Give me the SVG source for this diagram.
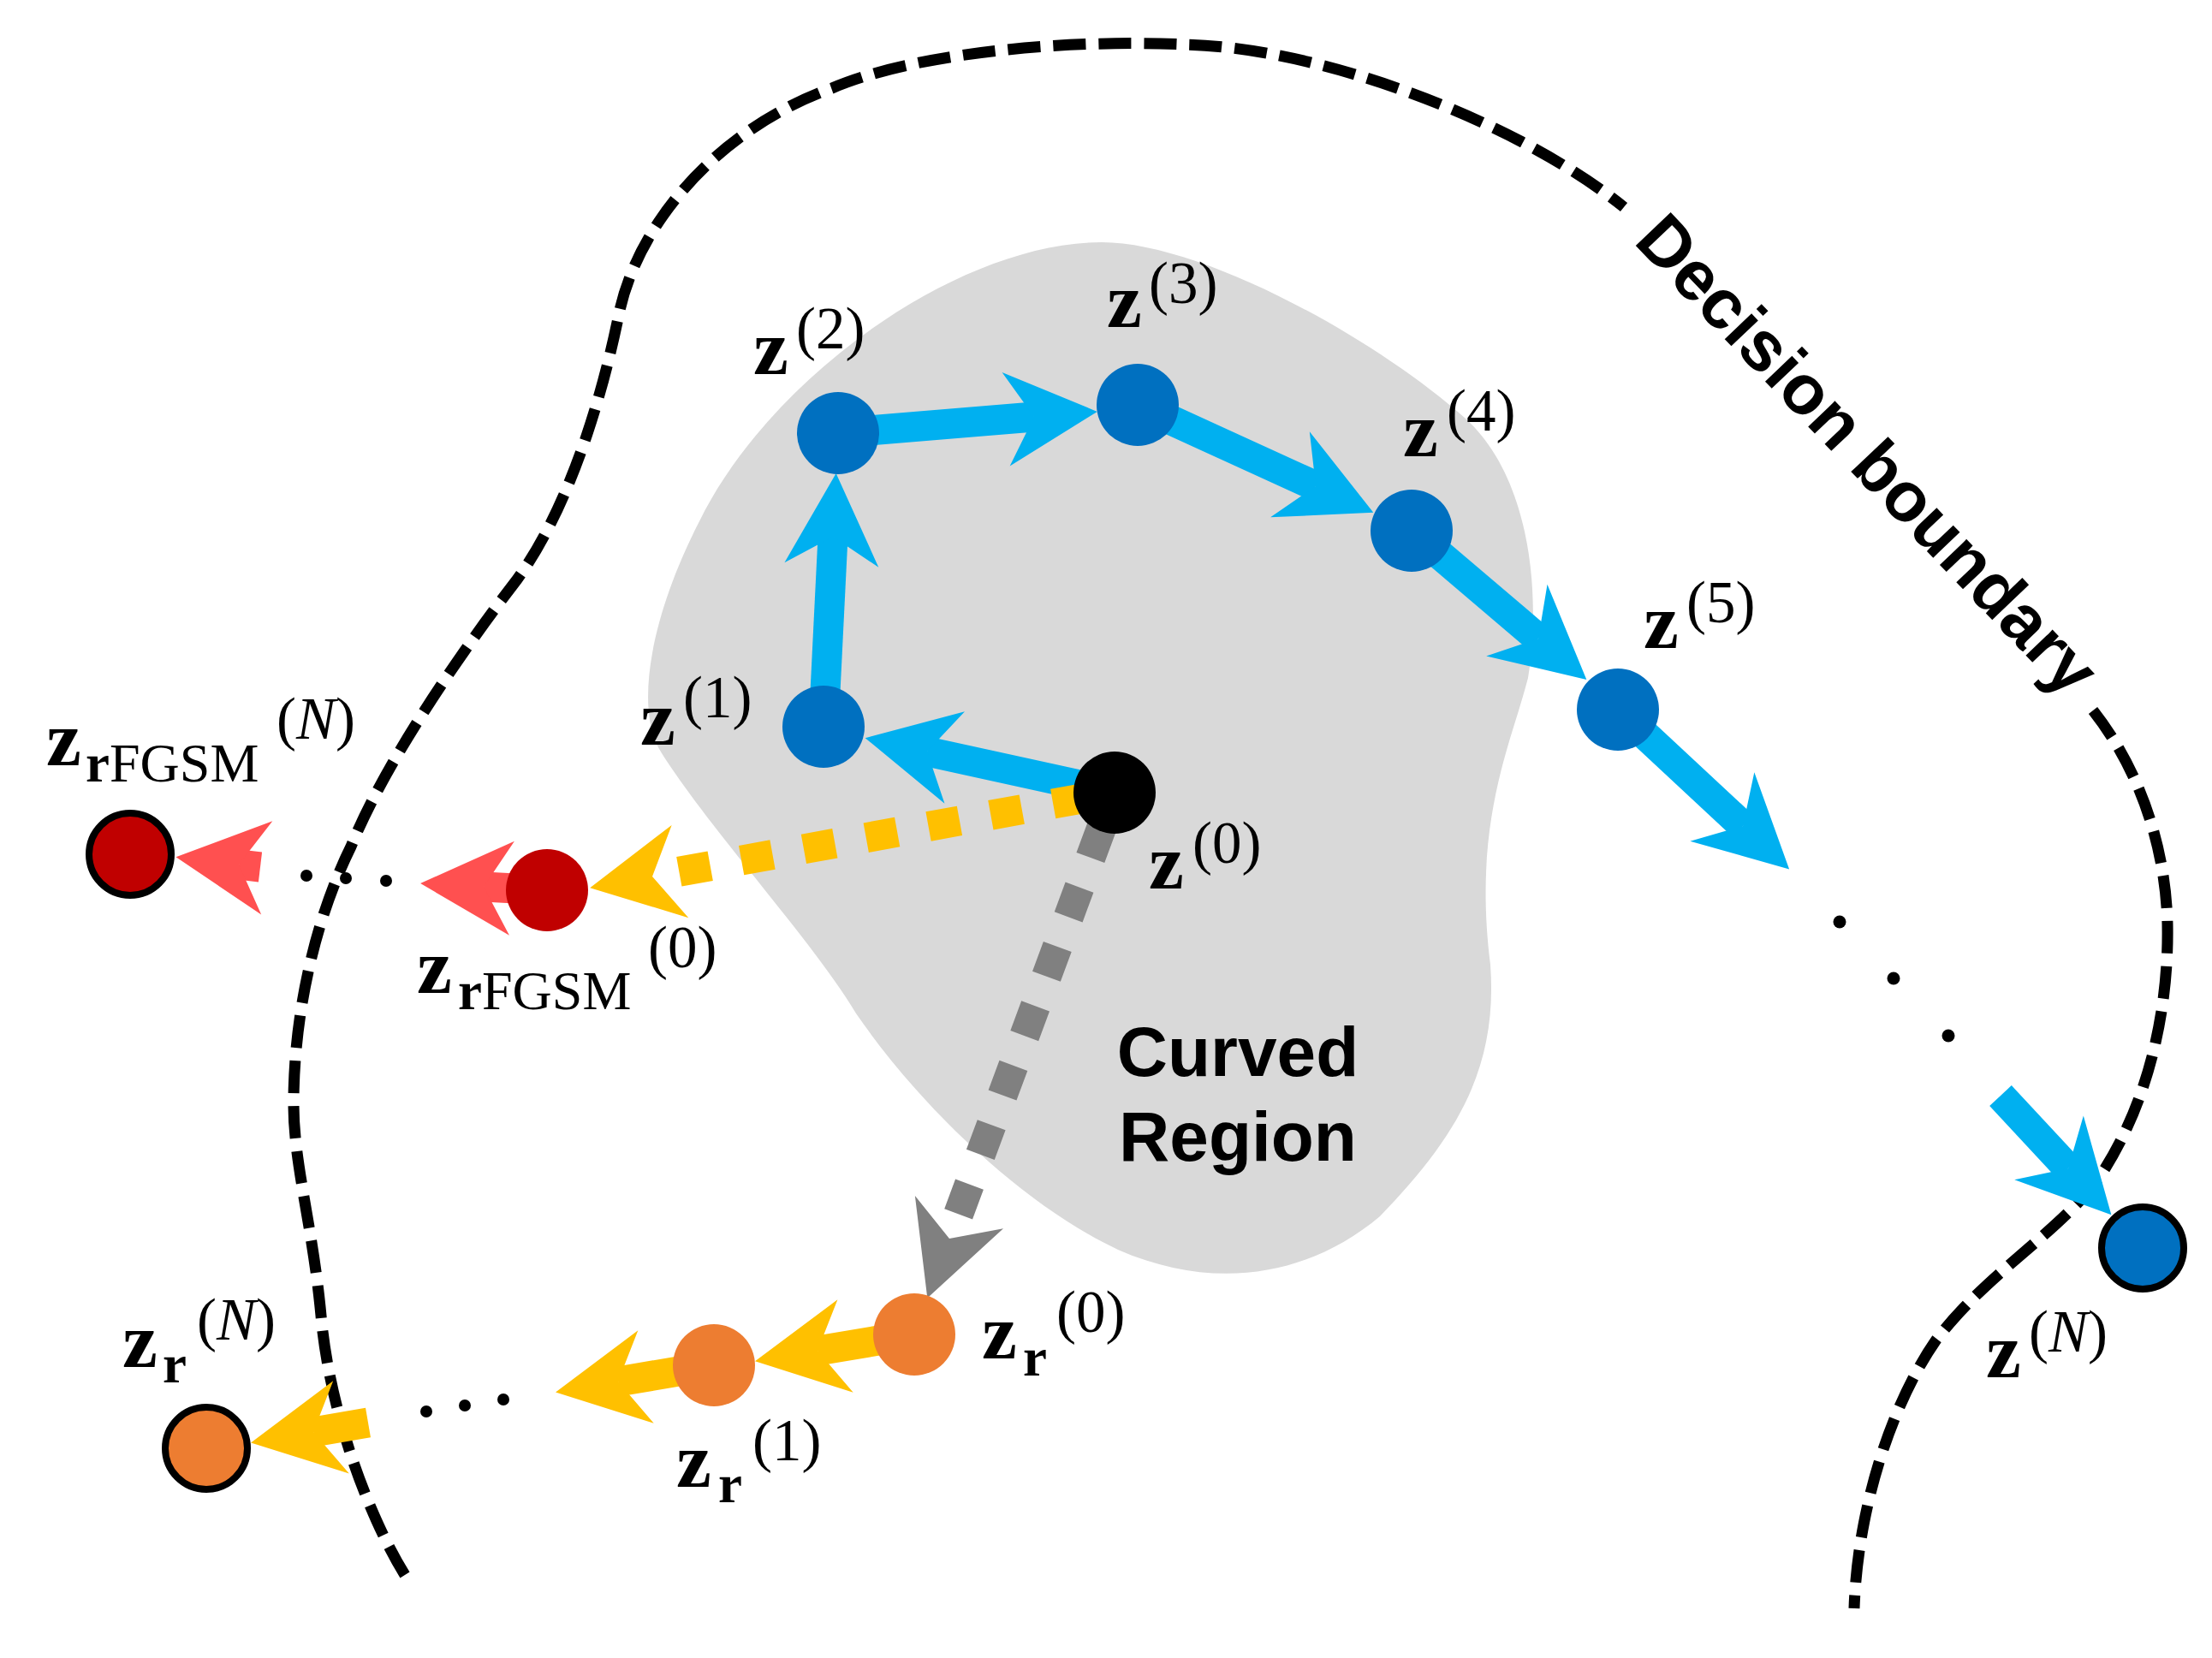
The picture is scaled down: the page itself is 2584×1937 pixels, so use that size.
<svg xmlns="http://www.w3.org/2000/svg" width="2584" height="1937" viewBox="0 0 2584 1937">
<defs>
<style>
.bd{fill:none;stroke:#000;stroke-width:13;stroke-dasharray:38 15}
.sh{fill:none;stroke-width:35;stroke-linecap:butt}
.blue{stroke:#00B0F0}
.yel{stroke:#FFC000}
.red{stroke:#FF5050}
.gray{stroke:#808080}
.dash{stroke-dasharray:37 37}
.mz{font-family:"Liberation Serif","DejaVu Serif",serif;font-weight:bold;font-size:92px;fill:#000}
.sub{font-family:"Liberation Serif","DejaVu Serif",serif;font-weight:bold;font-size:63px;fill:#000}
.rm{font-weight:normal;font-size:64px}
.sup{font-family:"Liberation Serif","DejaVu Serif",serif;font-weight:normal;font-size:69px;fill:#000}
.lbl{font-family:"Liberation Sans",Arial,sans-serif;font-weight:bold;font-size:82px;fill:#000}
.nb{fill:#0070C0}
.nr{fill:#C00000}
.no{fill:#ED7D31}
.ring{stroke:#000;stroke-width:8}
.dot{fill:#000}
</style>
<marker id="hBlue" viewBox="-40 -60 120 120" markerWidth="120" markerHeight="120" refX="0" refY="0" orient="auto" markerUnits="userSpaceOnUse"><path d="M-33,-55 L74,0 L-33,55 L0,0 Z" fill="#00B0F0"/></marker>
<marker id="hYel" viewBox="-40 -60 120 120" markerWidth="120" markerHeight="120" refX="0" refY="0" orient="auto" markerUnits="userSpaceOnUse"><path d="M-33,-55 L74,0 L-33,55 L0,0 Z" fill="#FFC000"/></marker>
<marker id="hRed" viewBox="-40 -60 120 120" markerWidth="120" markerHeight="120" refX="0" refY="0" orient="auto" markerUnits="userSpaceOnUse"><path d="M-33,-55 L74,0 L-33,55 L0,0 Z" fill="#FF5050"/></marker>
<marker id="hGray" viewBox="-40 -60 120 120" markerWidth="120" markerHeight="120" refX="0" refY="0" orient="auto" markerUnits="userSpaceOnUse"><path d="M-33,-55 L74,0 L-33,55 L0,0 Z" fill="#808080"/></marker>
</defs>
<rect width="2584" height="1937" fill="#fff"/>

<g id="curved-region">
<path d="M1287,283 C1400,283 1600,390 1712,489 C1790,560 1800,700 1785,792 C1765,870 1720,960 1741,1127 C1750,1250 1700,1330 1612,1421 C1530,1490 1420,1510 1306,1460 C1200,1410 1080,1300 1000,1184 C950,1100 830,970 773,880 C740,830 760,720 817,609 C900,440 1120,283 1287,283 Z" fill="#D9D9D9"/>
<text class="lbl" x="1446" y="1257" text-anchor="middle">Curved</text>
<text class="lbl" x="1446" y="1356" text-anchor="middle">Region</text>
</g>

<g id="decision-boundary">
<path class="bd" d="M473,1840 C430,1770 385,1650 375,1537 C365,1430 343,1360 343,1290 C343,1180 370,1070 410,989 C450,890 540,760 604,677 C660,600 700,480 723,367 C745,260 840,150 972,103 C1060,65 1230,45 1384,52 C1540,55 1770,140 1897,242"/>
<path class="bd" d="M2445,830 C2500,900 2530,990 2532,1080 C2534,1200 2500,1310 2445,1386 C2390,1450 2320,1490 2262,1565 C2210,1640 2170,1760 2166,1879"/>
<text class="lbl" transform="translate(1907,283) rotate(46.4)" x="0" y="0">Decision boundary</text>
</g>

<g id="connectors">
<line class="sh blue" x1="1302" y1="926" x2="1083" y2="878" marker-end="url(#hBlue)"/>
<line class="sh blue" x1="962" y1="849" x2="973" y2="627" marker-end="url(#hBlue)"/>
<line class="sh blue" x1="979" y1="506" x2="1208" y2="487" marker-end="url(#hBlue)"/>
<line class="sh blue" x1="1329" y1="473" x2="1537" y2="568" marker-end="url(#hBlue)"/>
<line class="sh blue" x1="1649" y1="620" x2="1797" y2="746" marker-end="url(#hBlue)"/>
<line class="sh blue" x1="1890" y1="829" x2="2036" y2="965" marker-end="url(#hBlue)"/>
<line class="sh blue" x1="2337" y1="1280" x2="2416" y2="1365" marker-end="url(#hBlue)"/>
<line class="sh yel dash" stroke-dashoffset="38" x1="1302" y1="926" x2="762" y2="1024" marker-end="url(#hYel)"/>
<line class="sh gray dash" stroke-dashoffset="30" x1="1302" y1="926" x2="1109" y2="1447" marker-end="url(#hGray)"/>
<line class="sh red" x1="639" y1="1040" x2="565" y2="1036" marker-end="url(#hRed)"/>
<line class="sh red" x1="304" y1="1013" x2="279" y2="1010" marker-end="url(#hRed)"/>
<line class="sh yel" x1="1068" y1="1559" x2="955" y2="1578" marker-end="url(#hYel)"/>
<line class="sh yel" x1="834" y1="1595" x2="722" y2="1614" marker-end="url(#hYel)"/>
<line class="sh yel" x1="430" y1="1662" x2="366" y2="1673" marker-end="url(#hYel)"/>
<circle class="dot" cx="358" cy="1023" r="7"/>
<circle class="dot" cx="404" cy="1026" r="7"/>
<circle class="dot" cx="451" cy="1029" r="7"/>
<circle class="dot" cx="498" cy="1649" r="7"/>
<circle class="dot" cx="543" cy="1642" r="7"/>
<circle class="dot" cx="588" cy="1635" r="7"/>
<circle class="dot" cx="2149" cy="1077" r="7.5"/>
<circle class="dot" cx="2212" cy="1143" r="7.5"/>
<circle class="dot" cx="2276" cy="1210" r="7.5"/>
</g>

<g id="node-z0">
<circle cx="1302" cy="926" r="48" fill="#000"/>
<text class="mz" x="1342" y="1038">z</text><text class="sup" x="1393" y="1008">(0)</text>
</g>
<g id="node-z1">
<circle class="nb" cx="962" cy="849" r="48"/>
<text class="mz" x="748" y="870">z</text><text class="sup" x="798" y="838">(1)</text>
</g>
<g id="node-z2">
<circle class="nb" cx="979" cy="506" r="48"/>
<text class="mz" x="880" y="437">z</text><text class="sup" x="930" y="407">(2)</text>
</g>
<g id="node-z3">
<circle class="nb" cx="1329" cy="473" r="48"/>
<text class="mz" x="1293" y="382">z</text><text class="sup" x="1342" y="354">(3)</text>
</g>
<g id="node-z4">
<circle class="nb" cx="1649" cy="620" r="48"/>
<text class="mz" x="1639" y="533">z</text><text class="sup" x="1690" y="503">(4)</text>
</g>
<g id="node-z5">
<circle class="nb" cx="1890" cy="829" r="48"/>
<text class="mz" x="1920" y="757">z</text><text class="sup" x="1970" y="727">(5)</text>
</g>
<g id="node-zN">
<circle class="nb ring" cx="2503" cy="1458" r="48"/>
<text class="mz" x="2320" y="1609">z</text><text class="sup" x="2370" y="1579">(<tspan font-style="italic">N</tspan>)</text>
</g>
<g id="node-zrFGSM0">
<circle class="nr" cx="639" cy="1040" r="48"/>
<text class="mz" x="487" y="1160">z</text><text class="sub" x="535" y="1179">r<tspan class="rm">FGSM</tspan></text><text class="sup" x="757" y="1130">(0)</text>
</g>
<g id="node-zrFGSMN">
<circle class="nr ring" cx="152" cy="998" r="48"/>
<text class="mz" x="54" y="894">z</text><text class="sub" x="100" y="913">r<tspan class="rm">FGSM</tspan></text><text class="sup" x="323" y="863">(<tspan font-style="italic">N</tspan>)</text>
</g>
<g id="node-zr0">
<circle class="no" cx="1068" cy="1559" r="48"/>
<text class="mz" x="1147" y="1587">z</text><text class="sub" x="1195" y="1607">r</text><text class="sup" x="1234" y="1556">(0)</text>
</g>
<g id="node-zr1">
<circle class="no" cx="834" cy="1595" r="48"/>
<text class="mz" x="790" y="1737">z</text><text class="sub" x="839" y="1755">r</text><text class="sup" x="879" y="1706">(1)</text>
</g>
<g id="node-zrN">
<circle class="no ring" cx="241" cy="1692" r="48"/>
<text class="mz" x="143" y="1597">z</text><text class="sub" x="190" y="1615">r</text><text class="sup" x="230" y="1565">(<tspan font-style="italic">N</tspan>)</text>
</g>
</svg>
